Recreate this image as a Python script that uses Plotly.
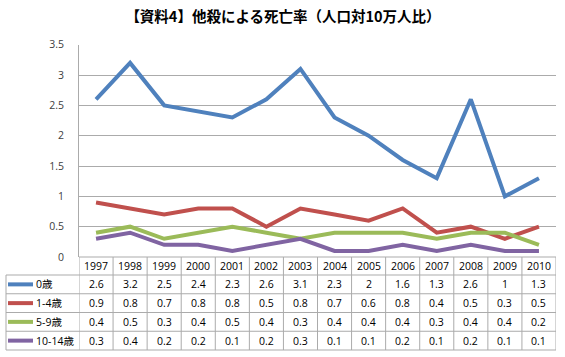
import plotly.graph_objects as go

years = ["1997", "1998", "1999", "2000", "2001", "2002", "2003", "2004", "2005",
         "2006", "2007", "2008", "2009", "2010"]
series_names = ["0歳", "1-4歳", "5-9歳", "10-14歳"]
age0 = [2.6, 3.2, 2.5, 2.4, 2.3, 2.6, 3.1, 2.3, 2, 1.6, 1.3, 2.6, 1, 1.3]
age1_4 = [0.9, 0.8, 0.7, 0.8, 0.8, 0.5, 0.8, 0.7, 0.6, 0.8, 0.4, 0.5, 0.3, 0.5]
age5_9 = [0.4, 0.5, 0.3, 0.4, 0.5, 0.4, 0.3, 0.4, 0.4, 0.4, 0.3, 0.4, 0.4, 0.2]
age10_14 = [0.3, 0.4, 0.2, 0.2, 0.1, 0.2, 0.3, 0.1, 0.1, 0.2, 0.1, 0.2, 0.1, 0.1]
series_values = [age0, age1_4, age5_9, age10_14]
colors = ["#4F81BD", "#C0504D", "#9BBB59", "#8064A2"]

W, H = 565, 357
px_l, px_r = 79, 556
px_top, px_bot = 44.7, 257
tbl_l = 6
header_bot = 275
row_h = 18.75
grid = "#ABABAB"
font_tbl = dict(family="Open Sans, Noto Sans CJK JP", size=10.5, color="#000000")


def py(y):
    return 1 - y / H


def px(x):
    return x / W


def fmt(v):
    return str(int(v)) if float(v).is_integer() else str(v)


fig = go.Figure()
for name, vals, c in zip(series_names, series_values, colors):
    fig.add_trace(go.Scatter(x=years, y=vals, mode="lines", name=name,
                             line=dict(color=c, width=4), showlegend=False,
                             hoverinfo="skip"))

n_rows = len(series_names)
row_edges = [header_bot + row_h * i for i in range(n_rows + 1)]
tbl_bot = row_edges[-1]

annotations = []
shapes = []
# header: years (category index positions on the x axis)
for j, yr in enumerate(years):
    annotations.append(dict(x=j, xref="x", y=py((px_bot + header_bot) / 2), yref="paper",
                            text=yr, showarrow=False, xanchor="center", yanchor="middle",
                            font=font_tbl))
# rows
for i, (name, vals, c) in enumerate(zip(series_names, series_values, colors)):
    yc = (row_edges[i] + row_edges[i + 1]) / 2
    annotations.append(dict(x=px(33.5), xref="paper", y=py(yc), yref="paper",
                            text=name, showarrow=False, xanchor="left", yanchor="middle",
                            font=font_tbl))
    shapes.append(dict(type="line", xref="paper", yref="paper",
                       x0=px(8), x1=px(33), y0=py(yc), y1=py(yc),
                       line=dict(color=c, width=4), layer="above"))
    for j, v in enumerate(vals):
        annotations.append(dict(x=j, xref="x", y=py(yc), yref="paper",
                                text=fmt(v), showarrow=False, xanchor="center",
                                yanchor="middle", font=font_tbl))

# table borders
for k in range(len(years) + 1):
    shapes.append(dict(type="line", xref="x", yref="paper", x0=k - 0.5, x1=k - 0.5,
                       y0=py(px_bot), y1=py(tbl_bot), line=dict(color=grid, width=1)))
shapes.append(dict(type="line", xref="paper", yref="paper", x0=px(tbl_l), x1=px(tbl_l),
                   y0=py(header_bot), y1=py(tbl_bot), line=dict(color=grid, width=1)))
shapes.append(dict(type="line", xref="paper", yref="paper", x0=px(px_l), x1=px(px_r),
                   y0=py(px_bot), y1=py(px_bot), line=dict(color=grid, width=1)))
for ye in row_edges:
    shapes.append(dict(type="line", xref="paper", yref="paper", x0=px(tbl_l), x1=px(px_r),
                       y0=py(ye), y1=py(ye), line=dict(color=grid, width=1)))

fig.update_layout(
    width=W, height=H,
    margin=dict(l=0, r=0, t=0, b=0, autoexpand=False),
    paper_bgcolor="white", plot_bgcolor="white",
    shapes=shapes, annotations=annotations,
    title=dict(text="<b>【資料4】他殺による死亡率（人口対10万人比）</b>",
               x=283 / W, xanchor="center", y=py(17), yanchor="middle",
               font=dict(family="Noto Sans CJK JP", size=14.5, color="#000000")),
    xaxis=dict(domain=[px(px_l), px(px_r)], type="category", automargin=False,
               range=[-0.5, len(years) - 0.5],
               showticklabels=False, showgrid=False, zeroline=False,
               showline=False, ticks=""),
    yaxis=dict(domain=[py(px_bot), py(px_top)], range=[0, 3.5], dtick=0.5,
               automargin=False,
               showgrid=True, gridcolor=grid, gridwidth=1, zeroline=False,
               showline=True, linecolor=grid, linewidth=1,
               ticks="", ticklabelstandoff=12,
               tickfont=dict(family="Open Sans", size=10.5, color="#404040")),
)

fig.write_html("out.html", config={"displayModeBar": False},
               post_script="document.body.style.margin='0';document.body.style.overflow='hidden';")
